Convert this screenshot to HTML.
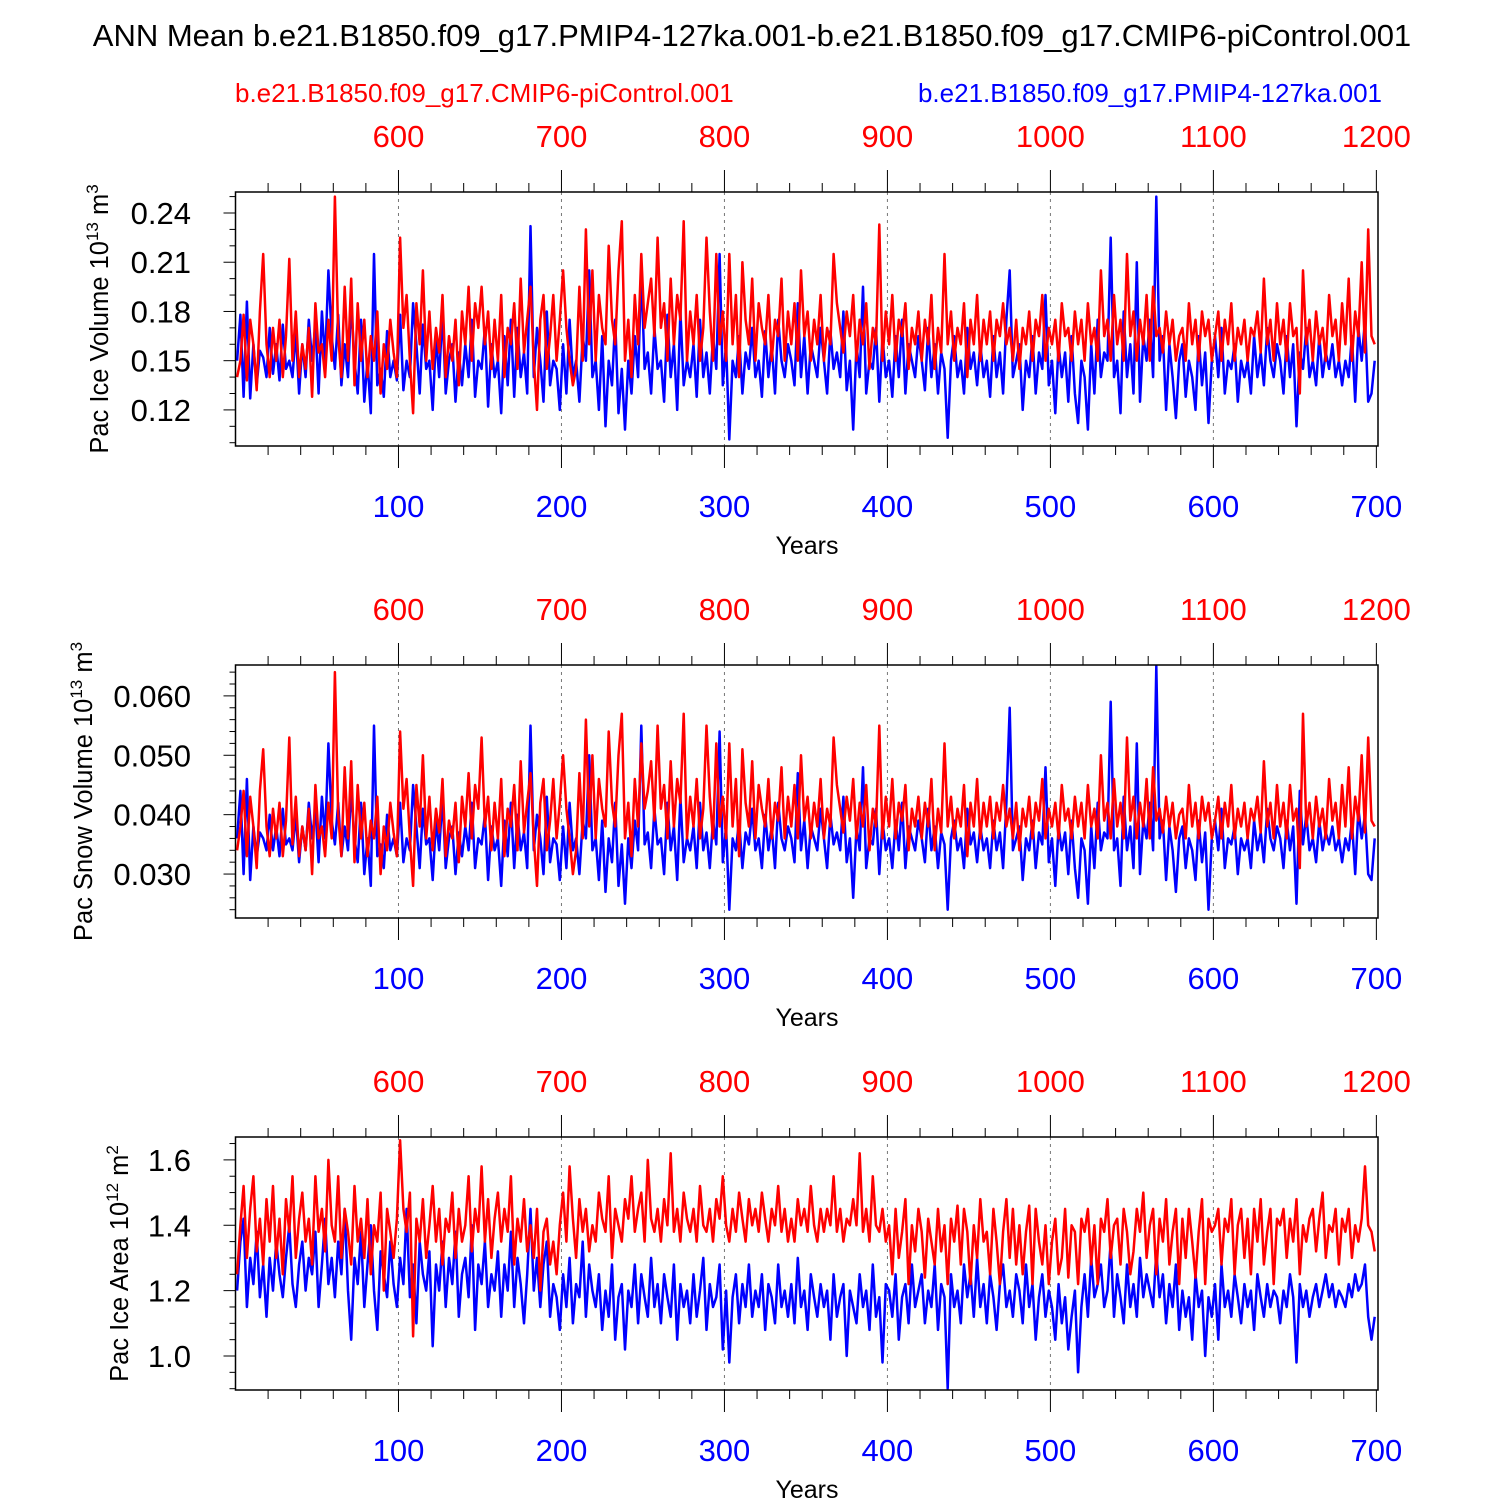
<!DOCTYPE html>
<html><head><meta charset="utf-8">
<style>
html,body{margin:0;padding:0;background:#fff;}
svg{display:block;font-family:"Liberation Sans",Arial,sans-serif;}
</style></head>
<body>
<svg id="chart" width="1500" height="1500" viewBox="0 0 1500 1500" xmlns="http://www.w3.org/2000/svg">
<text x="752" y="46" font-size="31" text-anchor="middle">ANN Mean b.e21.B1850.f09_g17.PMIP4-127ka.001-b.e21.B1850.f09_g17.CMIP6-piControl.001</text>
<text x="235" y="102" font-size="26" fill="#ff0000">b.e21.B1850.f09_g17.CMIP6-piControl.001</text>
<text x="1382" y="102" font-size="26" fill="#0000ff" text-anchor="end">b.e21.B1850.f09_g17.PMIP4-127ka.001</text>
<g id="panels"></g>
</svg>
<script>
const iceVolBlue=[
0.150,0.178,0.128,0.186,0.127,0.160,0.135,0.156,0.152,0.140,
0.170,0.142,0.160,0.138,0.172,0.145,0.150,0.140,0.168,0.130,
0.160,0.140,0.175,0.150,0.172,0.130,0.180,0.150,0.205,0.165,
0.145,0.178,0.135,0.160,0.140,0.185,0.150,0.130,0.175,0.125,
0.150,0.118,0.215,0.135,0.145,0.128,0.168,0.140,0.150,0.138,
0.178,0.132,0.150,0.140,0.185,0.160,0.130,0.172,0.145,0.150,
0.120,0.165,0.140,0.180,0.130,0.150,0.160,0.125,0.155,0.135,
0.160,0.140,0.175,0.128,0.150,0.145,0.170,0.122,0.160,0.140,
0.150,0.118,0.165,0.135,0.175,0.128,0.170,0.140,0.155,0.130,
0.232,0.140,0.170,0.150,0.125,0.180,0.135,0.150,0.145,0.120,
0.160,0.130,0.175,0.140,0.150,0.125,0.165,0.150,0.205,0.140,
0.150,0.120,0.165,0.110,0.150,0.135,0.175,0.118,0.145,0.108,
0.150,0.130,0.165,0.140,0.205,0.145,0.155,0.130,0.170,0.145,
0.150,0.125,0.178,0.140,0.160,0.120,0.180,0.135,0.150,0.140,
0.160,0.128,0.175,0.140,0.155,0.130,0.165,0.145,0.215,0.135,
0.160,0.102,0.150,0.140,0.165,0.130,0.155,0.145,0.170,0.140,
0.150,0.128,0.168,0.140,0.160,0.130,0.175,0.150,0.140,0.160,
0.150,0.135,0.185,0.140,0.165,0.130,0.160,0.150,0.140,0.170,
0.150,0.130,0.168,0.145,0.155,0.140,0.180,0.132,0.150,0.108,
0.160,0.140,0.195,0.130,0.150,0.145,0.170,0.125,0.165,0.140,
0.150,0.128,0.165,0.140,0.175,0.130,0.160,0.150,0.140,0.165,
0.150,0.132,0.170,0.140,0.160,0.130,0.155,0.145,0.103,0.150,
0.165,0.140,0.150,0.130,0.170,0.145,0.155,0.135,0.160,0.140,
0.150,0.128,0.165,0.140,0.155,0.130,0.175,0.205,0.140,0.150,
0.160,0.120,0.150,0.140,0.165,0.130,0.155,0.145,0.190,0.135,
0.150,0.118,0.160,0.140,0.155,0.125,0.165,0.130,0.112,0.150,
0.140,0.108,0.160,0.130,0.175,0.140,0.155,0.150,0.225,0.140,
0.150,0.118,0.180,0.140,0.160,0.130,0.210,0.125,0.165,0.150,
0.175,0.140,0.250,0.150,0.165,0.120,0.160,0.140,0.115,0.150,
0.160,0.128,0.150,0.140,0.120,0.165,0.135,0.155,0.112,0.150,
0.165,0.140,0.170,0.130,0.150,0.145,0.160,0.125,0.150,0.140,
0.150,0.130,0.165,0.140,0.155,0.135,0.170,0.150,0.140,0.160,
0.150,0.130,0.165,0.140,0.160,0.110,0.155,0.145,0.170,0.140,
0.150,0.135,0.165,0.140,0.155,0.145,0.160,0.140,0.150,0.135,
0.150,0.140,0.165,0.125,0.170,0.150,0.175,0.125,0.130,0.150];
const iceVolRed=[
0.140,0.150,0.178,0.138,0.175,0.160,0.132,0.180,0.215,0.160,
0.140,0.170,0.150,0.175,0.140,0.165,0.212,0.150,0.180,0.140,
0.160,0.145,0.170,0.128,0.185,0.155,0.160,0.140,0.175,0.150,
0.250,0.165,0.140,0.195,0.150,0.200,0.135,0.185,0.150,0.175,
0.140,0.165,0.150,0.180,0.130,0.160,0.145,0.175,0.155,0.140,
0.225,0.170,0.190,0.150,0.118,0.185,0.160,0.205,0.150,0.180,
0.145,0.170,0.155,0.190,0.140,0.165,0.150,0.175,0.135,0.180,
0.160,0.195,0.150,0.185,0.170,0.195,0.160,0.180,0.145,0.175,
0.150,0.190,0.140,0.170,0.160,0.185,0.145,0.200,0.155,0.175,
0.195,0.150,0.120,0.175,0.190,0.145,0.165,0.190,0.150,0.175,
0.205,0.170,0.150,0.135,0.145,0.195,0.150,0.230,0.160,0.205,
0.150,0.190,0.170,0.160,0.220,0.175,0.160,0.205,0.235,0.150,
0.175,0.140,0.190,0.160,0.215,0.170,0.185,0.200,0.165,0.225,
0.170,0.185,0.150,0.200,0.160,0.190,0.175,0.235,0.150,0.180,
0.160,0.190,0.150,0.170,0.225,0.180,0.150,0.215,0.160,0.180,
0.150,0.215,0.160,0.190,0.140,0.210,0.175,0.160,0.200,0.150,
0.185,0.170,0.160,0.190,0.150,0.175,0.165,0.200,0.150,0.180,
0.160,0.185,0.150,0.205,0.165,0.180,0.150,0.175,0.160,0.190,
0.150,0.170,0.160,0.215,0.185,0.170,0.155,0.180,0.165,0.190,
0.150,0.175,0.160,0.185,0.145,0.170,0.160,0.233,0.150,0.180,
0.160,0.190,0.150,0.175,0.165,0.185,0.145,0.170,0.160,0.180,
0.150,0.175,0.160,0.190,0.145,0.170,0.155,0.215,0.160,0.180,
0.150,0.170,0.160,0.185,0.140,0.175,0.160,0.190,0.150,0.175,
0.160,0.180,0.150,0.175,0.165,0.185,0.160,0.170,0.150,0.175,
0.145,0.170,0.160,0.180,0.150,0.175,0.165,0.190,0.150,0.170,
0.160,0.175,0.150,0.185,0.165,0.170,0.150,0.180,0.160,0.175,
0.150,0.185,0.160,0.170,0.150,0.205,0.165,0.175,0.150,0.190,
0.160,0.175,0.150,0.215,0.165,0.180,0.150,0.175,0.160,0.190,
0.150,0.195,0.165,0.170,0.155,0.180,0.160,0.175,0.150,0.165,
0.170,0.150,0.185,0.160,0.175,0.150,0.180,0.165,0.175,0.150,
0.165,0.180,0.150,0.175,0.160,0.185,0.150,0.170,0.160,0.175,
0.150,0.170,0.165,0.180,0.155,0.200,0.160,0.175,0.150,0.185,
0.160,0.175,0.150,0.185,0.165,0.170,0.130,0.205,0.160,0.175,
0.150,0.180,0.160,0.170,0.150,0.190,0.165,0.175,0.150,0.185,
0.160,0.200,0.150,0.180,0.165,0.210,0.155,0.230,0.165,0.160];
const snowVolBlue=[
0.036,0.044,0.030,0.046,0.029,0.038,0.033,0.037,0.036,0.034,
0.040,0.034,0.038,0.033,0.041,0.035,0.036,0.034,0.040,0.032,
0.038,0.034,0.042,0.036,0.041,0.032,0.043,0.036,0.052,0.039,
0.035,0.042,0.033,0.038,0.034,0.044,0.036,0.032,0.042,0.030,
0.036,0.028,0.055,0.033,0.035,0.031,0.040,0.034,0.036,0.033,
0.042,0.032,0.036,0.034,0.045,0.038,0.031,0.041,0.035,0.036,
0.029,0.039,0.034,0.043,0.031,0.036,0.038,0.030,0.037,0.033,
0.038,0.034,0.042,0.031,0.036,0.035,0.040,0.029,0.038,0.034,
0.036,0.028,0.039,0.033,0.042,0.031,0.040,0.034,0.037,0.031,
0.055,0.034,0.040,0.036,0.030,0.043,0.032,0.036,0.035,0.029,
0.038,0.031,0.042,0.034,0.036,0.030,0.039,0.036,0.050,0.034,
0.036,0.029,0.039,0.027,0.036,0.032,0.042,0.028,0.035,0.025,
0.036,0.031,0.039,0.034,0.055,0.035,0.037,0.031,0.041,0.035,
0.036,0.030,0.042,0.034,0.038,0.029,0.043,0.032,0.036,0.034,
0.038,0.031,0.042,0.034,0.037,0.031,0.039,0.035,0.054,0.032,
0.038,0.024,0.036,0.034,0.039,0.031,0.037,0.035,0.041,0.034,
0.036,0.031,0.040,0.034,0.038,0.031,0.042,0.036,0.034,0.038,
0.036,0.032,0.047,0.034,0.039,0.031,0.038,0.036,0.034,0.041,
0.036,0.031,0.040,0.035,0.037,0.034,0.043,0.032,0.036,0.026,
0.038,0.034,0.048,0.031,0.036,0.035,0.041,0.030,0.039,0.034,
0.036,0.031,0.039,0.034,0.042,0.031,0.038,0.036,0.034,0.039,
0.036,0.032,0.041,0.034,0.038,0.031,0.037,0.035,0.024,0.036,
0.039,0.034,0.036,0.031,0.041,0.035,0.037,0.032,0.038,0.034,
0.036,0.031,0.039,0.034,0.037,0.031,0.042,0.058,0.034,0.036,
0.038,0.029,0.036,0.034,0.039,0.031,0.037,0.035,0.048,0.032,
0.036,0.028,0.038,0.034,0.037,0.030,0.039,0.031,0.026,0.036,
0.034,0.025,0.038,0.031,0.042,0.034,0.037,0.036,0.059,0.034,
0.036,0.028,0.043,0.034,0.038,0.031,0.052,0.030,0.039,0.036,
0.042,0.034,0.065,0.036,0.039,0.029,0.038,0.034,0.027,0.036,
0.038,0.031,0.036,0.034,0.029,0.039,0.032,0.037,0.024,0.036,
0.039,0.034,0.041,0.031,0.036,0.035,0.038,0.030,0.036,0.034,
0.036,0.031,0.039,0.034,0.037,0.032,0.041,0.036,0.034,0.038,
0.036,0.031,0.039,0.034,0.038,0.025,0.044,0.035,0.040,0.034,
0.036,0.032,0.039,0.034,0.037,0.035,0.038,0.034,0.036,0.032,
0.036,0.034,0.039,0.030,0.041,0.036,0.040,0.030,0.029,0.036];
const snowVolRed=[
0.034,0.038,0.044,0.033,0.043,0.038,0.031,0.044,0.051,0.038,
0.033,0.041,0.036,0.042,0.033,0.039,0.053,0.035,0.043,0.033,
0.038,0.034,0.041,0.030,0.045,0.036,0.038,0.033,0.042,0.036,
0.064,0.040,0.033,0.048,0.036,0.049,0.032,0.045,0.036,0.042,
0.033,0.039,0.036,0.043,0.030,0.038,0.034,0.042,0.037,0.033,
0.054,0.041,0.046,0.036,0.028,0.045,0.038,0.050,0.036,0.043,
0.034,0.041,0.037,0.046,0.033,0.039,0.036,0.042,0.032,0.043,
0.038,0.047,0.036,0.045,0.041,0.053,0.038,0.043,0.034,0.042,
0.036,0.046,0.033,0.041,0.038,0.045,0.034,0.049,0.037,0.042,
0.047,0.036,0.028,0.042,0.046,0.034,0.039,0.046,0.036,0.042,
0.050,0.041,0.036,0.030,0.034,0.047,0.036,0.056,0.038,0.050,
0.036,0.046,0.041,0.038,0.054,0.042,0.038,0.050,0.057,0.036,
0.042,0.033,0.046,0.038,0.052,0.041,0.044,0.049,0.039,0.055,
0.041,0.045,0.036,0.049,0.038,0.046,0.042,0.057,0.036,0.043,
0.038,0.046,0.036,0.041,0.055,0.043,0.036,0.052,0.038,0.043,
0.036,0.052,0.038,0.046,0.033,0.051,0.042,0.038,0.049,0.036,
0.045,0.041,0.038,0.046,0.036,0.042,0.039,0.048,0.036,0.043,
0.038,0.045,0.036,0.050,0.039,0.043,0.036,0.042,0.038,0.046,
0.036,0.041,0.038,0.053,0.045,0.041,0.037,0.043,0.039,0.046,
0.036,0.042,0.038,0.045,0.034,0.041,0.038,0.055,0.036,0.043,
0.038,0.046,0.036,0.042,0.039,0.045,0.034,0.041,0.038,0.043,
0.036,0.042,0.038,0.046,0.034,0.041,0.037,0.052,0.038,0.043,
0.036,0.041,0.038,0.045,0.033,0.042,0.038,0.046,0.036,0.042,
0.038,0.043,0.036,0.042,0.039,0.045,0.038,0.041,0.036,0.042,
0.034,0.041,0.038,0.043,0.036,0.042,0.039,0.046,0.036,0.041,
0.038,0.042,0.036,0.045,0.039,0.041,0.036,0.043,0.038,0.042,
0.036,0.045,0.038,0.041,0.036,0.050,0.039,0.042,0.036,0.046,
0.038,0.042,0.036,0.053,0.039,0.043,0.036,0.042,0.038,0.046,
0.036,0.048,0.039,0.041,0.037,0.043,0.038,0.042,0.036,0.040,
0.041,0.036,0.045,0.038,0.042,0.036,0.043,0.039,0.042,0.036,
0.039,0.043,0.036,0.042,0.038,0.045,0.036,0.041,0.038,0.042,
0.036,0.041,0.039,0.043,0.037,0.049,0.038,0.042,0.036,0.045,
0.038,0.042,0.036,0.045,0.039,0.041,0.031,0.057,0.038,0.042,
0.036,0.043,0.038,0.041,0.036,0.046,0.039,0.042,0.036,0.045,
0.038,0.048,0.036,0.043,0.039,0.050,0.037,0.053,0.039,0.038];
const iceAreaBlue=[
1.20,1.35,1.42,1.15,1.30,1.22,1.38,1.18,1.28,1.12,
1.30,1.20,1.35,1.25,1.18,1.30,1.40,1.22,1.15,1.28,
1.35,1.20,1.30,1.25,1.38,1.15,1.28,1.42,1.22,1.30,
1.18,1.35,1.25,1.45,1.20,1.05,1.30,1.22,1.38,1.15,
1.28,1.40,1.20,1.08,1.32,1.25,1.18,1.35,1.22,1.15,
1.30,1.22,1.45,1.18,1.28,1.10,1.35,1.25,1.20,1.32,
1.03,1.28,1.20,1.35,1.15,1.30,1.22,1.38,1.12,1.25,
1.30,1.18,1.40,1.08,1.28,1.22,1.35,1.15,1.25,1.20,
1.32,1.12,1.28,1.20,1.38,1.15,1.30,1.22,1.10,1.25,
1.45,1.20,1.30,1.15,1.28,1.35,1.12,1.22,1.18,1.08,
1.25,1.15,1.30,1.10,1.22,1.18,1.35,1.12,1.28,1.20,
1.15,1.25,1.08,1.20,1.12,1.28,1.05,1.18,1.22,1.02,
1.20,1.15,1.28,1.10,1.25,1.18,1.12,1.30,1.15,1.22,
1.10,1.25,1.18,1.12,1.28,1.05,1.22,1.15,1.20,1.10,
1.25,1.12,1.20,1.30,1.08,1.22,1.15,1.18,1.28,1.02,
1.20,0.98,1.18,1.25,1.10,1.22,1.15,1.28,1.12,1.20,
1.15,1.25,1.08,1.22,1.18,1.10,1.28,1.15,1.20,1.12,
1.22,1.10,1.30,1.15,1.20,1.08,1.25,1.18,1.12,1.22,
1.15,1.20,1.05,1.25,1.12,1.18,1.22,1.00,1.20,1.15,
1.10,1.25,1.15,1.20,1.08,1.28,1.12,1.18,0.98,1.22,
1.20,1.12,1.25,1.05,1.18,1.22,1.10,1.28,1.15,1.20,
1.25,1.10,1.20,1.15,1.28,1.08,1.22,1.18,0.90,1.25,
1.15,1.20,1.10,1.28,1.18,1.25,1.12,1.30,1.15,1.22,
1.10,1.25,1.18,1.08,1.22,1.28,1.15,1.20,1.12,1.25,
1.20,1.10,1.28,1.15,1.22,1.05,1.18,1.25,1.12,1.20,
1.15,1.05,1.22,1.10,1.18,1.02,1.12,1.20,0.95,1.15,
1.25,1.12,1.30,1.18,1.22,1.28,1.15,1.20,1.35,1.12,
1.25,1.18,1.10,1.28,1.15,1.22,1.12,1.30,1.18,1.25,
1.20,1.15,1.32,1.18,1.25,1.10,1.22,1.15,1.28,1.08,
1.20,1.12,1.18,1.05,1.25,1.15,1.20,1.00,1.18,1.12,
1.22,1.05,1.28,1.15,1.20,1.12,1.25,1.18,1.10,1.22,
1.15,1.20,1.08,1.25,1.18,1.12,1.22,1.15,1.20,1.18,
1.10,1.20,1.15,1.25,1.18,0.98,1.22,1.15,1.20,1.12,
1.18,1.22,1.15,1.20,1.25,1.18,1.22,1.15,1.20,1.18,
1.15,1.22,1.18,1.25,1.20,1.22,1.28,1.12,1.05,1.12];
const iceAreaRed=[
1.25,1.40,1.52,1.30,1.45,1.55,1.32,1.42,1.28,1.48,
1.35,1.52,1.30,1.42,1.25,1.48,1.38,1.55,1.30,1.42,
1.50,1.35,1.42,1.28,1.55,1.38,1.45,1.32,1.60,1.40,
1.35,1.55,1.30,1.45,1.38,1.28,1.52,1.35,1.42,1.30,
1.48,1.25,1.40,1.35,1.50,1.20,1.45,1.38,1.30,1.42,
1.66,1.45,1.38,1.50,1.06,1.42,1.35,1.48,1.30,1.40,
1.52,1.35,1.45,1.28,1.42,1.38,1.50,1.30,1.45,1.35,
1.40,1.55,1.32,1.45,1.38,1.58,1.35,1.48,1.30,1.42,
1.50,1.35,1.45,1.38,1.55,1.28,1.42,1.35,1.48,1.32,
1.40,1.30,1.45,1.20,1.38,1.42,1.28,1.35,1.25,1.40,
1.50,1.35,1.58,1.42,1.30,1.48,1.38,1.45,1.32,1.40,
1.35,1.50,1.42,1.38,1.55,1.30,1.45,1.40,1.35,1.48,
1.42,1.55,1.38,1.45,1.50,1.35,1.60,1.42,1.38,1.45,
1.35,1.48,1.40,1.62,1.38,1.45,1.35,1.50,1.42,1.38,
1.45,1.35,1.52,1.40,1.38,1.45,1.35,1.48,1.42,1.55,
1.40,1.35,1.45,1.38,1.50,1.42,1.35,1.48,1.40,1.45,
1.38,1.50,1.42,1.35,1.45,1.40,1.52,1.38,1.45,1.35,
1.42,1.35,1.48,1.40,1.45,1.38,1.52,1.40,1.35,1.45,
1.38,1.45,1.40,1.55,1.38,1.45,1.35,1.42,1.40,1.48,
1.40,1.62,1.38,1.45,1.35,1.55,1.40,1.38,1.45,1.35,
1.40,1.25,1.45,1.30,1.38,1.48,1.22,1.40,1.32,1.45,
1.38,1.24,1.42,1.35,1.28,1.45,1.32,1.40,1.22,1.42,
1.35,1.46,1.28,1.45,1.38,1.22,1.40,1.30,1.48,1.35,
1.38,1.25,1.45,1.35,1.22,1.38,1.48,1.30,1.45,1.28,
1.40,1.25,1.38,1.46,1.22,1.45,1.35,1.28,1.40,1.22,
1.35,1.42,1.25,1.30,1.45,1.24,1.40,1.38,1.22,1.42,
1.38,1.45,1.28,1.40,1.22,1.42,1.38,1.48,1.30,1.40,
1.42,1.28,1.45,1.38,1.25,1.32,1.45,1.38,1.50,1.30,
1.40,1.45,1.25,1.42,1.35,1.48,1.28,1.38,1.45,1.22,
1.42,1.30,1.45,1.35,1.24,1.38,1.48,1.22,1.42,1.38,
1.40,1.45,1.28,1.42,1.38,1.48,1.25,1.40,1.45,1.30,
1.42,1.25,1.45,1.35,1.48,1.28,1.38,1.45,1.22,1.42,
1.40,1.45,1.30,1.42,1.35,1.48,1.25,1.40,1.35,1.42,
1.45,1.32,1.42,1.50,1.30,1.40,1.38,1.45,1.28,1.42,
1.38,1.45,1.30,1.40,1.35,1.42,1.58,1.40,1.38,1.32];
const bottomTicks=[100,200,300,400,500,600,700];
const topTickLabels=["600","700","800","900","1000","1100","1200"];
const yTicks1=[0.12,0.15,0.18,0.21,0.24];
const yTicks2=[0.030,0.040,0.050,0.060];
const yTicks3=[1.0,1.2,1.4,1.6];

const NS="http://www.w3.org/2000/svg";
const X0=235.5,X1=1378,YR0=0,YR1=701;
const xs=y=>X0+(y-YR0)/(YR1-YR0)*(X1-X0);
function mk(tag,attrs,parent){const e=document.createElementNS(NS,tag);for(const k in attrs)e.setAttribute(k,attrs[k]);parent.appendChild(e);return e;}
const root=document.getElementById('panels');
const panels=[
 {name:'ice-volume',top:192,bot:446,ymin:0.098,ymax:0.2528,ticks:yTicks1,dec:2,minor:0.01,blue:iceVolBlue,red:iceVolRed,title:'Pac Ice Volume 10',sup:'13',unit:' m',usup:'3',tx:108},
 {name:'snow-volume',top:665,bot:918,ymin:0.0226,ymax:0.0652,ticks:yTicks2,dec:3,minor:0.002,blue:snowVolBlue,red:snowVolRed,title:'Pac Snow Volume 10',sup:'13',unit:' m',usup:'3',tx:92},
 {name:'ice-area',top:1137,bot:1390,ymin:0.896,ymax:1.670,ticks:yTicks3,dec:1,minor:0.05,blue:iceAreaBlue,red:iceAreaRed,title:'Pac Ice Area 10',sup:'12',unit:' m',usup:'2',tx:128}
];
panels.forEach((p,pi)=>{
 const g=mk('g',{},root);
 
 
 const ys=v=>p.bot-(v-p.ymin)/(p.ymax-p.ymin)*(p.bot-p.top);
 const cid='clip'+pi;
 const cp=mk('clipPath',{id:cid},g);mk('rect',{x:X0,y:p.top,width:X1-X0,height:p.bot-p.top},cp);
 bottomTicks.forEach(t=>{if(t<700){const l=mk('line',{x1:xs(t),x2:xs(t),y1:p.top,y2:p.bot,stroke:'#777','stroke-width':1,'stroke-dasharray':'3,4'},g);
  
  }});
 [['blue','#0000ff'],['red','#ff0000']].forEach(([k,c])=>{
  const arr=p[k];let d='';
  arr.forEach((v,i)=>{const yr=2*i+1;d+=(i?'L':'M')+xs(yr).toFixed(1)+','+ys(v).toFixed(1);});
  const path=mk('path',{d:d,fill:'none',stroke:c,'stroke-width':2.5,'stroke-linejoin':'round','clip-path':'url(#'+cid+')'},g);
  
  
 });
 const fr=mk('rect',{x:X0,y:p.top,width:X1-X0,height:p.bot-p.top,fill:'none',stroke:'#000','stroke-width':1.5},g);
 
 
 for(let t=20;t<=700;t+=20){
  const major=t%100===0;const len=major?22:9;
  mk('line',{x1:xs(t),x2:xs(t),y1:p.top,y2:p.top-len,stroke:'#000','stroke-width':1},g);
  mk('line',{x1:xs(t),x2:xs(t),y1:p.bot,y2:p.bot+len,stroke:'#000','stroke-width':1},g);
 }
 bottomTicks.forEach((t,i)=>{
  const bl=mk('text',{x:xs(t),y:p.bot+71,'font-size':31,fill:'#0000ff','text-anchor':'middle'},g);bl.textContent=String(t);
  
  
  const tl=mk('text',{x:xs(t),y:p.top-45,'font-size':31,fill:'#ff0000','text-anchor':'middle'},g);tl.textContent=topTickLabels[i];
  
  
 });
 const xt=mk('text',{x:807,y:p.bot+108,'font-size':25,'text-anchor':'middle'},g);xt.textContent='Years';
 
 
 for(let k=Math.ceil(p.ymin/p.minor-1e-6);k*p.minor<=p.ymax+1e-9;k++){
  const v=k*p.minor;const yy=ys(v);
  const isMaj=p.ticks.some(t=>Math.abs(t-v)<p.minor/10);
  mk('line',{x1:X0,x2:X0-(isMaj?12:6),y1:yy,y2:yy,stroke:'#000','stroke-width':1},g);
 }
 p.ticks.forEach(t=>{
  const yl=mk('text',{x:191,y:ys(t)+11,'font-size':31,'text-anchor':'end'},g);yl.textContent=t.toFixed(p.dec);
  
  
 });
 const cy=(p.top+p.bot)/2;
 const yt=mk('text',{x:p.tx,y:cy,'font-size':25.5,'text-anchor':'middle',transform:'rotate(-90 '+p.tx+' '+cy+')'},g);
 
 
 yt.appendChild(document.createTextNode(p.title));
 const s1=mk('tspan',{dy:-10,'font-size':17},yt);s1.textContent=p.sup;
 const s2=mk('tspan',{dy:10},yt);s2.textContent=p.unit;
 const s3=mk('tspan',{dy:-10,'font-size':17},yt);s3.textContent=p.usup;
});
</script>
</body></html>
